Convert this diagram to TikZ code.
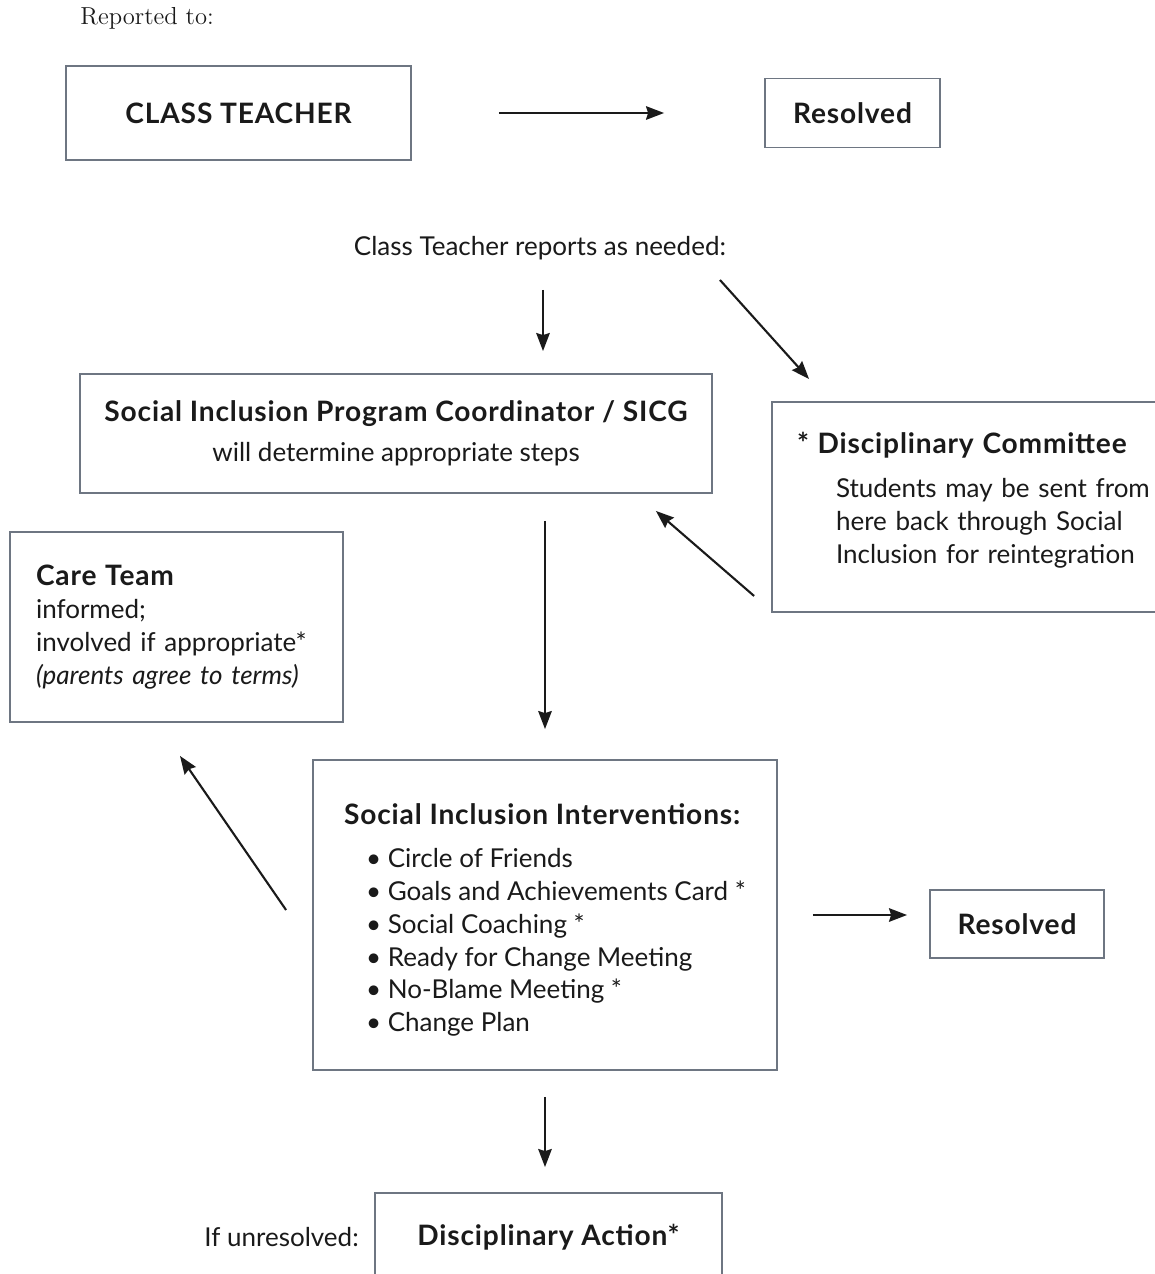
\documentclass[tikz,border=0pt]{standalone}
\usepackage{fontspec}
\usepackage{xcolor}
\usepackage{tikz}
\usetikzlibrary{arrows.meta,positioning}
\newfontfamily\latofont{Lato}
\newcommand\boxhead[1]{{\fontsize{16}{18.7}\selectfont\bfseries\addfontfeature{LetterSpace=3}#1}}
\definecolor{schInk}{HTML}{1A1A1A}
\definecolor{schFrame}{HTML}{6E7682}
\tikzset{
  casebox/.style={rectangle,draw=schFrame,line width=1.1pt,fill=white,align=center,
    inner sep=0pt,font=\latofont\fontsize{14.8}{18.7}\selectfont,text=schInk},
  notebox/.style={casebox,align=left},
  plaintext/.style={inner sep=0pt,font=\latofont\fontsize{14.8}{18.7}\selectfont,text=schInk},
  arrow/.style={-{Stealth[length=0.36cm,width=0.27cm,inset=0.04cm]},line width=1.2pt,draw=schInk}
}
\begin{document}
\begin{tikzpicture}[x=0.02cm,y=-0.02cm]
  \clip (0,0) rectangle (1155,1274);
  \node[plaintext, font=\fontsize{14}{17}\selectfont, anchor=west] (rep) at (80,18) {Reported to:};
  \node[casebox, minimum width=6.9cm, minimum height=1.88cm] (teacher) at (238.5,113) {\boxhead{CLASS TEACHER}};
  \node[casebox, minimum width=3.5cm, minimum height=1.38cm] (resA) at (852.5,113) {\boxhead{Resolved}};
  \node[plaintext] (reports) at (540,248) {Class Teacher reports as needed:};
  \node[casebox, minimum width=12.64cm, minimum height=2.38cm] (sipc) at (396,433.5)
    {\boxhead{Social Inclusion Program Coordinator / SICG}\\[4pt] will determine appropriate steps};
  \node[notebox, minimum width=8.56cm, minimum height=4.2cm, inner xsep=0.5cm, text width=7.56cm] (dc) at (986,507)
    {\boxhead{* Disciplinary Committee}\\[6.8pt]
     \hspace*{0.78cm}Students may be sent from\\
     \hspace*{0.78cm}here back through Social\\
     \hspace*{0.78cm}Inclusion for reintegration\par\vspace*{0.28cm}};
  \node[notebox, minimum width=6.66cm, minimum height=3.8cm, inner xsep=0.52cm, text width=5.62cm] (care) at (176.5,627)
    {\boxhead{Care Team}\\ informed;\\ involved if appropriate*\\ \textit{(parents agree to terms)}};
  \node[notebox, minimum width=9.28cm, minimum height=6.2cm] (sii) at (545,915)
    {\rule{0pt}{17.7pt}\boxhead{Social Inclusion Interventions:}\\[5.7pt]
     \hspace*{0.44cm}• Circle of Friends\\
     \hspace*{0.44cm}• Goals and Achievements Card *\\
     \hspace*{0.44cm}• Social Coaching *\\
     \hspace*{0.44cm}• Ready for Change Meeting\\
     \hspace*{0.44cm}• No-Blame Meeting *\\
     \hspace*{0.44cm}• Change Plan};
  \node[casebox, minimum width=3.48cm, minimum height=1.36cm] (resB) at (1017,924) {\boxhead{Resolved}};
  \node[casebox, minimum width=6.94cm, minimum height=1.76cm] (action) at (548.5,1237) {\boxhead{Disciplinary Action*}};
  \node[plaintext, left=0.3cm of action] (unres) {If unresolved:};
  % connectors
  \draw[arrow, shorten <=1.74cm, shorten >=2.0cm] (teacher.east) -- (resA.west);
  \draw[arrow, shorten <=0.84cm, shorten >=0.44cm] ([xshift=0.06cm]reports.center) -- ([xshift=0.06cm]reports.center |- sipc.north);
  \draw[arrow] ([xshift=3.6cm,yshift=-0.64cm]reports.center) -- ([xshift=0.76cm,yshift=0.44cm]dc.north west);
  \draw[arrow] ([xshift=-0.34cm,yshift=0.34cm]dc.south west) -- ([xshift=-1.14cm,yshift=-0.34cm]sipc.south east);
  \draw[arrow, shorten <=0.54cm, shorten >=0.6cm] (sii.north |- sipc.south) -- (sii.north);
  \draw[arrow] ([xshift=-0.52cm,yshift=0.1cm]sii.west) -- ([xshift=0.07cm,yshift=-0.66cm]care.south);
  \draw[arrow, shorten <=0.7cm, shorten >=0.44cm] (sii.east) -- (sii.east -| resB.west);
  \draw[arrow, shorten <=0.52cm, shorten >=0.5cm] (sii.south) -- (sii.south |- action.north);
\end{tikzpicture}
\end{document}
